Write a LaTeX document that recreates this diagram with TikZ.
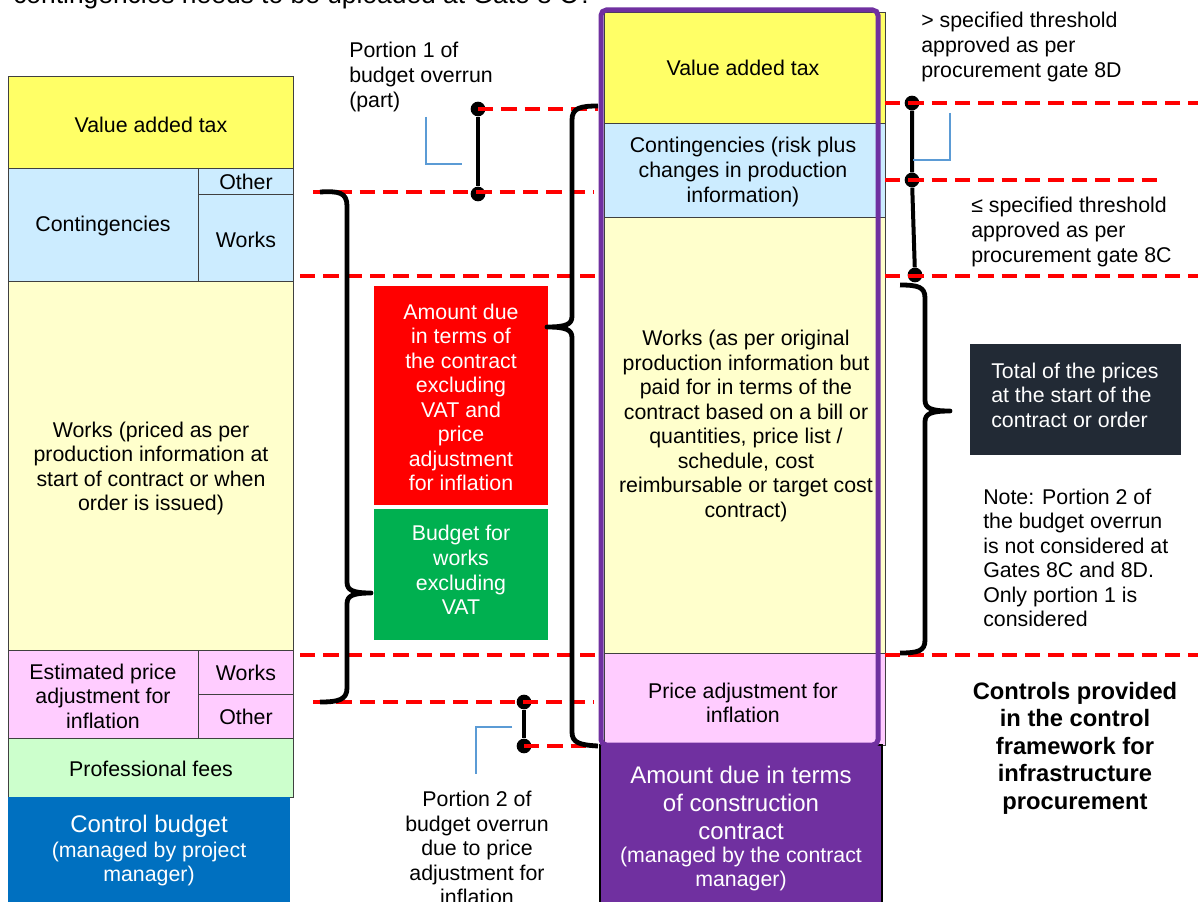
\documentclass[tikz,border=0pt]{standalone}
\usepackage{fontspec}
\setmainfont{Liberation Sans}
\definecolor{cyellow}{HTML}{FFFF66}
\definecolor{cblue}{HTML}{CCECFF}
\definecolor{clyellow}{HTML}{FFFFCC}
\definecolor{cpink}{HTML}{FFCCFF}
\definecolor{cgreen}{HTML}{CCFFCC}
\definecolor{cbudget}{HTML}{0070C0}
\definecolor{cpurple}{HTML}{7030A0}
\definecolor{cred}{HTML}{FF0000}
\definecolor{cgreenbox}{HTML}{00B050}
\definecolor{cdark}{HTML}{222A35}
\definecolor{calloutblue}{HTML}{5B9BD5}
\begin{document}
\begin{tikzpicture}[x=0.75pt,y=-0.75pt,
  txt/.style={inner sep=0pt, font=\fontsize{16}{18.4}\selectfont, align=center},
  txtl/.style={inner sep=0pt, font=\fontsize{16}{18.4}\selectfont, align=left, anchor=west},
  big/.style={inner sep=0pt, font=\fontsize{18}{21}\selectfont, align=center},
  cell/.style={draw=black!75, line width=0.6pt},
  redline/.style={draw=red, line width=2.4pt, dash pattern=on 11.5pt off 6pt},
  brace/.style={draw=black, line width=3.6pt, line join=round},
  stem/.style={draw=black, line width=3pt},
  dot/.style={circle, fill=black, inner sep=0pt, minimum size=11pt},
  callout/.style={draw=calloutblue, line width=0.8pt},
]
\useasboundingbox (0,0) rectangle (1198,902);
\clip (0,0) rectangle (1198,902);
\fill[white] (0,0) rectangle (1198,902);

% heading line, mostly above the page edge
\node[inner sep=0pt, anchor=base west, font=\fontsize{19.8}{23}\selectfont] (heading) at (13,3.5) {contingencies needs to be uploaded at Gate 8 C?};

% ---------- control budget column ----------
\path[cell, fill=cyellow] (8,76) rectangle (293,168);
\path[cell, fill=cblue] (8,168) rectangle (293,281);
\draw[cell] (198,168) -- (198,281);
\draw[cell] (198,194) -- (293,194);
\path[cell, fill=clyellow] (8,281) rectangle (293,650);
\path[cell, fill=cpink] (8,650) rectangle (293,738);
\draw[cell] (198,650) -- (198,738);
\draw[cell] (198,694) -- (293,694);
\path[cell, fill=cgreen] (8,738) rectangle (293,797);
\fill[cbudget] (8,797) rectangle (290,910);

\node[txt] (lvat) at (151,125) {Value added tax};
\node[txt] (lcont) at (103,226) {Contingencies};
\node[txt] (lcontother) at (246,182) {Other};
\node[txt] (lcontworks) at (246,240) {Works};
\node[txt] (lworks) at (151,468.5) {Works (priced as per\\production information at\\start of contract or when\\order is issued)};
\node[txt] (lepa) at (103,696) {Estimated price\\adjustment for\\inflation};
\node[txt] (lepaworks) at (246,673) {Works};
\node[txt] (lepaother) at (246,717) {Other};
\node[txt] (lfees) at (151,769) {Professional fees};
\node[big, text=white] (lbudget) at (149,826) {Control budget};
\node[txt, text=white] (lbudgetsub) at (149,864) {(managed by project\\manager)};

% ---------- construction contract column ----------
\path[cell, fill=cyellow] (604,12) rectangle (885,123);
\path[cell, fill=cblue] (604,123) rectangle (885,217);
\path[cell, fill=clyellow] (604,217) rectangle (885,653);
\path[cell, fill=cpink] (604,653) rectangle (885,745);
\path[draw=black, line width=0.8pt, fill=cpurple] (600,745) rectangle (882,910);
\draw[draw=cpurple, line width=3.75pt, rounded corners=4pt] (601,10) rectangle (878,745);

\node[txt] (mvat) at (743,68) {Value added tax};
\node[txt] (mcont) at (743,172) {Contingencies (risk plus\\changes in production\\information)};
\node[txt] (mworks) at (746,426) {Works (as per original\\production information but\\paid for in terms of the\\contract based on a bill or\\quantities, price list /\\schedule, cost\\reimbursable or target cost\\contract)};
\node[txt] (mpa) at (743,703) {Price adjustment for\\inflation};
\node[big, text=white] (mamount) at (741,803) {Amount due in terms\\of construction\\contract};
\node[txt, text=white] (mamountsub) at (741,869) {(managed by the contract\\manager)};

% ---------- summary boxes ----------
\fill[cred] (374,286) rectangle (548,505);
\node[txt, text=white] (redtxt) at (461,397.5) {Amount due\\in terms of\\the contract\\excluding\\VAT and\\price\\adjustment\\for inflation};
\fill[cgreenbox] (374,509) rectangle (548,640);
\node[txt, text=white] (greentxt) at (461,570) {Budget for\\works\\excluding\\VAT};
\fill[cdark] (970,344) rectangle (1181,455);
\node[txtl, text=white] (darktxt) at (991,395) {Total of the prices\\at the start of the\\contract or order};

% ---------- level lines ----------
\node[dot] (p1a) at (478,109) {};
\node[dot] (p1b) at (478,194) {};
\node[dot] (p2a) at (524,702) {};
\node[dot] (p2b) at (524,746) {};
\node[dot] (r1) at (912,103) {};
\node[dot] (r2) at (912,180) {};
\node[dot] (r3) at (915,275) {};

\coordinate (e1) at (598,109);
\draw[redline] (p1a.center) -- (e1);
\draw[redline] (313,192) -- (594,192);
\draw[redline] (300,276) -- (598,276);
\draw[redline] (300,655) -- (598,655);
\draw[redline] (313,702) -- (594,702);
\coordinate (e2) at (598,746);
\draw[redline] (p2b.center) -- (e2);
\draw[redline] (885,103) -- (1198,103);
\draw[redline] (885,180) -- (1160,180);
\draw[redline] (885,276) -- (1198,276);
\draw[redline] (885,655) -- (1198,655);

\draw[stem] (p1a) -- (p1b);
\draw[stem] (p2a) -- (p2b);
\draw[stem] (r1) -- (r2) -- (r3);

% ---------- braces ----------
\draw[brace] (320,192) .. controls (338,191) and (347,192) .. (347,206) -- (347,582)
  .. controls (347,590) and (352,593) .. (371,593)
  .. controls (352,593) and (347,596) .. (347,604) -- (347,688)
  .. controls (347,700) and (338,702) .. (320,702);
\draw[brace] (598,106) .. controls (580,106) and (572,108) .. (572,120) -- (572,316)
  .. controls (572,324) and (567,327) .. (547,327)
  .. controls (567,327) and (572,330) .. (572,338) -- (572,732)
  .. controls (572,743) and (580,745) .. (598,746);
\draw[brace] (900,285) .. controls (918,285) and (925,287) .. (925,298) -- (925,400)
  .. controls (925,408) and (930,411) .. (950,411)
  .. controls (930,411) and (925,414) .. (925,422) -- (925,640)
  .. controls (925,651) and (918,653) .. (900,653);

% ---------- annotations ----------
\node[txtl] (portion1) at (349,77) {Portion 1 of\\budget overrun\\(part)};
\draw[callout] (426,117) -- (426,164) -- (462,164);
\node[txt] (portion2) at (477,848) {Portion 2 of\\budget overrun\\due to price\\adjustment for\\inflation};
\draw[callout] (512,727) -- (476,727) -- (476,774);
\node[txtl] (gate8d) at (921,47) {> specified threshold\\approved as per\\procurement gate 8D};
\draw[callout] (950,113) -- (950,160) -- (913,160);
\node[txtl] (gate8c) at (971,232) {≤ specified threshold\\approved as per\\procurement gate 8C};
\node[txtl] (note) at (983,558) {Note: Portion 2 of\\the budget overrun\\is not considered at\\Gates 8C and 8D.\\Only portion 1 is\\considered};
\node[inner sep=0pt, align=center, font=\fontsize{17.8}{20.6}\selectfont\bfseries] (controls) at (1075,748) {Controls provided\\in the control\\framework for\\infrastructure\\procurement};
\end{tikzpicture}
\end{document}
